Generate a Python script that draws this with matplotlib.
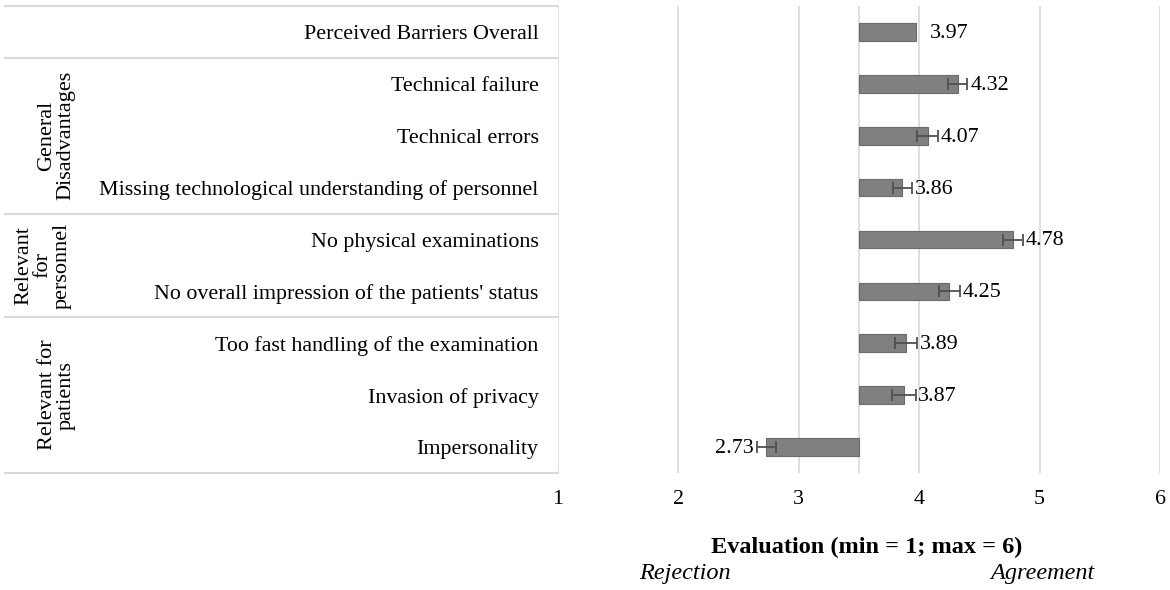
import matplotlib
matplotlib.use("Agg")
import matplotlib.pyplot as plt
import matplotlib.transforms as mtransforms
import numpy as np

categories = ["Perceived Barriers Overall", "Technical failure", "Technical errors",
              "Missing technological understanding of personnel", "No physical examinations",
              "No overall impression of the patients' status", "Too fast handling of the examination",
              "Invasion of privacy", "Impersonality"]
means = [3.97, 4.32, 4.07, 3.86, 4.78, 4.25, 3.89, 3.87, 2.73]
errors = [0.0, 0.08, 0.085, 0.08, 0.08, 0.085, 0.09, 0.10, 0.08]
groups = ["General\nDisadvantages", "Relevant\nfor\npersonnel", "Relevant for\npatients"]
group_rows = [(1, 3), (4, 5), (6, 8)]
midpoint = 3.5
xticks = [1, 2, 3, 4, 5, 6]

plt.rcParams["font.family"] = ["Liberation Serif", "DejaVu Serif"]
W, H = 1170, 590
FS = 15.8
fig = plt.figure(figsize=(W / 100, H / 100), dpi=100)
ax = fig.add_axes([558 / W, 1 - 473 / H, (1160 - 558) / W, (473 - 6) / H])

y = np.arange(len(categories))
m = np.array(means)
e = np.array(errors)

ax.barh(y, m - midpoint, left=midpoint, height=0.34, color="#808080",
        edgecolor="#6a6a6a", linewidth=0.8, zorder=3)
has_err = e > 0
ax.errorbar(m[has_err], y[has_err], xerr=e[has_err], fmt="none", ecolor="#505050",
            elinewidth=1.3, capsize=4.5, capthick=1.3, zorder=4)

for yi, mi, ei in zip(y, m, e):
    if mi >= midpoint:
        pad = 2 if ei > 0 else 10
        ax.annotate(f"{mi:.2f}", (mi + ei, yi), xytext=(pad, -1), textcoords="offset points",
                    ha="left", va="center", fontsize=FS)
    else:
        ax.annotate(f"{mi:.2f}", (mi - ei, yi), xytext=(-2, -1), textcoords="offset points",
                    ha="right", va="center", fontsize=FS)

ax.set_xlim(1, 6)
ax.set_ylim(len(categories) - 0.5, -0.5)
for t in xticks:
    ax.axvline(t, color="#d9d9d9", lw=1.2, zorder=1)
ax.axvline(midpoint, color="#d9d9d9", lw=1.2, zorder=1)

ax.set_xticks(xticks)
ax.set_xticklabels([str(t) for t in xticks], fontsize=FS)
ax.set_yticks(y)
ax.set_yticklabels(categories, fontsize=FS)
ax.tick_params(axis="both", length=0)
ax.tick_params(axis="x", pad=12)
ax.tick_params(axis="y", pad=14)
for s in ax.spines.values():
    s.set_visible(False)

# table lines and group labels on the left
tr = mtransforms.blended_transform_factory(fig.transFigure, ax.transData)
for b in [-0.5, 0.5, 3.5, 5.5, len(categories) - 0.5]:
    ax.plot([5 / W, 558 / W], [b, b], color="#d9d9d9", lw=1.5, transform=tr, clip_on=False)
group_x = [56, 43, 57]
for label, (r0, r1), gx in zip(groups, group_rows, group_x):
    ax.text(gx / W, (r0 + r1) / 2, label, transform=tr, rotation=90, ha="center", va="center",
            multialignment="center", fontsize=16, linespacing=1.0)

fig.text(867 / W, 1 - 547 / H, "Evaluation (min = 1; max = 6)", ha="center", va="center",
         fontsize=17.5, fontweight="bold")
fig.text(685 / W, 1 - 574 / H, "Rejection", ha="center", va="center", fontsize=17.5, style="italic")
fig.text(1042 / W, 1 - 574 / H, "Agreement", ha="center", va="center", fontsize=17.5, style="italic")

fig.savefig("out.png", dpi=100)
